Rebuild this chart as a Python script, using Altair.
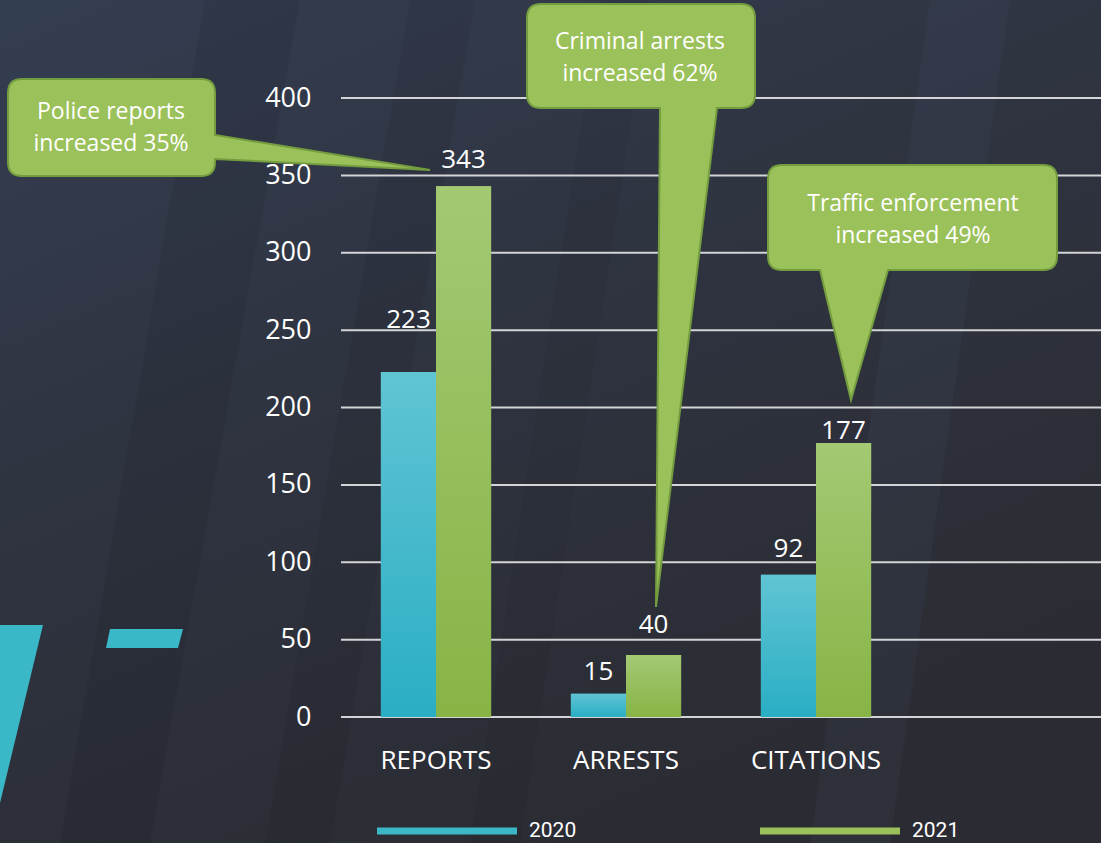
import altair as alt
import pandas as pd

# ---------------- data ----------------
categories = ["REPORTS", "ARRESTS", "CITATIONS"]
years = ["2020", "2021"]
values_2020 = [223, 15, 92]
values_2021 = [343, 40, 177]
y_ticks = [0, 50, 100, 150, 200, 250, 300, 350, 400]

callout_texts = [
    ["Police reports", "increased 35%"],
    ["Criminal arrests", "increased 62%"],
    ["Traffic enforcement", "increased 49%"],
]

# label lift above bar tops (pixels), as placed in the original
label_lift_2020 = [44, 14, 18]
label_lift_2021 = [18, 22, 4]

# ---------------- layout ----------------
W, H = 760, 619
PAD_L, PAD_T = 341, 98
TOTAL_W, TOTAL_H = 1101, 843
Y_MAX = 400
PX_PER_UNIT = H / Y_MAX

rows = []
for i, c in enumerate(categories):
    rows.append({"category": c, "year": "2020", "value": values_2020[i],
                 "label_y": values_2020[i] + label_lift_2020[i] / PX_PER_UNIT})
    rows.append({"category": c, "year": "2021", "value": values_2021[i],
                 "label_y": values_2021[i] + label_lift_2021[i] / PX_PER_UNIT})
df = pd.DataFrame(rows)
ticks_df = pd.DataFrame({"tick": y_ticks})
one = pd.DataFrame({"k": [0]})

x_domain = categories + ["_"]
x_scale = alt.Scale(domain=x_domain, paddingInner=0.42, paddingOuter=0.21)
y_scale = alt.Scale(domain=[0, Y_MAX], nice=False)
xoff_scale = alt.Scale(domain=years, paddingInner=0, paddingOuter=0)

FONT = "Open Sans"

y_axis = alt.Axis(values=y_ticks, title=None, grid=False, domain=False, ticks=False,
                  labelFont=FONT, labelFontSize=27, labelColor="#ffffff",
                  labelPadding=30, zindex=2)
x_axis = alt.Axis(title=None, grid=False, domain=False, ticks=False, labelAngle=0,
                  labelFont=FONT, labelFontSize=26, labelColor="#ffffff",
                  labelPadding=30, zindex=2,
                  labelExpr="datum.value == '_' ? '' : datum.value")

X = alt.X("category:N", scale=x_scale, axis=x_axis)
XO = alt.XOffset("year:N", scale=xoff_scale)
Y = alt.Y("value:Q", scale=y_scale, axis=y_axis)


def shape_layer(path, fill, opacity=1.0, stroke=None, stroke_width=0):
    kw = dict(shape=path, size=4, filled=True, fill=fill, opacity=opacity,
              strokeWidth=stroke_width)
    if stroke:
        kw["stroke"] = stroke
    return alt.Chart(one).mark_point(**kw).encode(x=alt.value(0), y=alt.value(0))


def poly(points):
    pts = [(x - PAD_L, y - PAD_T) for x, y in points]
    return "M" + " L".join(f"{x},{y}" for x, y in pts) + " Z"


def callout_path(box, r, side, base, tip):
    x0, y0, x1, y1 = box[0] - PAD_L, box[1] - PAD_T, box[2] - PAD_L, box[3] - PAD_T
    tx, ty = tip[0] - PAD_L, tip[1] - PAD_T
    p = [f"M{x0 + r},{y0}", f"H{x1 - r}", f"Q{x1},{y0} {x1},{y0 + r}"]
    if side == "right":
        b0, b1 = base[0] - PAD_T, base[1] - PAD_T
        p += [f"V{b0}", f"L{tx},{ty}", f"L{x1},{b1}"]
    p += [f"V{y1 - r}", f"Q{x1},{y1} {x1 - r},{y1}"]
    if side == "bottom":
        b0, b1 = base[0] - PAD_L, base[1] - PAD_L
        p += [f"H{b1}", f"L{tx},{ty}", f"L{b0},{y1}"]
    p += [f"H{x0 + r}", f"Q{x0},{y1} {x0},{y1 - r}", f"V{y0 + r}", f"Q{x0},{y0} {x0 + r},{y0}", "Z"]
    return " ".join(p)


# ---------------- background ----------------
bg_grad = alt.LinearGradient(
    gradient="linear",
    stops=[alt.GradientStop(color="#343e51", offset=0),
           alt.GradientStop(color="#2f3441", offset=0.45),
           alt.GradientStop(color="#2b2c33", offset=1)],
    x1=0, y1=0, x2=0.55, y2=1,
)
bg = alt.Chart(one).mark_rect(fill=bg_grad, strokeWidth=0).encode(
    x=alt.value(-PAD_L), x2=alt.value(TOTAL_W - PAD_L),
    y=alt.value(-PAD_T), y2=alt.value(TOTAL_H - PAD_T),
)

streaks = [
    shape_layer(poly([(205, 0), (300, 0), (150, 843), (60, 843)]), "#000000", 0.07),
    shape_layer(poly([(410, 0), (475, 0), (330, 843), (265, 843)]), "#000000", 0.06),
    shape_layer(poly([(930, 0), (1010, 0), (890, 843), (810, 843)]), "#4a5f80", 0.10),
    shape_layer(poly([(600, 0), (650, 0), (520, 843), (470, 843)]), "#000000", 0.04),
]

cyan1 = shape_layer(poly([(0, 625), (43, 625), (0, 803)]), "#3bb8c8")
cyan2 = shape_layer(poly([(110, 629), (183, 629), (178, 648), (106, 648)]), "#3bb8c8")

# ---------------- grid ----------------
grid = alt.Chart(ticks_df).mark_rule(color="#d4d4d6", strokeWidth=2).encode(
    y=alt.Y("tick:Q", scale=y_scale, axis=y_axis),
    x=alt.value(0), x2=alt.value(W),
)

# ---------------- bars ----------------
SYM_W = 140
base_bars = alt.Chart(df).mark_bar(strokeWidth=0).encode(
    x=X, xOffset=XO, y=Y,
    color=alt.Color("year:N",
                    scale=alt.Scale(domain=years, range=["#3cb7c8", "#9bc25a"]),
                    legend=alt.Legend(title=None, orient="none", legendX=36,
                                      legendY=831 - PAD_T - SYM_W / 2,
                                      direction="horizontal",
                                      symbolType="M-1,-0.05H1V0.05H-1Z",
                                      symbolSize=SYM_W * SYM_W, symbolStrokeWidth=0,
                                      symbolOpacity=1, zindex=2,
                                      labelFont="Roboto", labelFontSize=21,
                                      labelFontWeight="normal",
                                      labelColor="#ffffff", labelOffset=12,
                                      columnPadding=183, padding=0)),
)

grad_2020 = alt.LinearGradient(
    gradient="linear",
    stops=[alt.GradientStop(color="#60c4d3", offset=0),
           alt.GradientStop(color="#2aaec4", offset=1)],
    x1=0, y1=0, x2=0, y2=1,
)
grad_2021 = alt.LinearGradient(
    gradient="linear",
    stops=[alt.GradientStop(color="#a3c973", offset=0),
           alt.GradientStop(color="#88b446", offset=1)],
    x1=0, y1=0, x2=0, y2=1,
)
bars_2020 = alt.Chart(df).transform_filter("datum.year == '2020'").mark_bar(
    fill=grad_2020, strokeWidth=0).encode(x=X, xOffset=XO, y=Y)
bars_2021 = alt.Chart(df).transform_filter("datum.year == '2021'").mark_bar(
    fill=grad_2021, strokeWidth=0).encode(x=X, xOffset=XO, y=Y)

labels = alt.Chart(df).mark_text(font=FONT, fontSize=26, color="#ffffff",
                                  align="center", baseline="alphabetic").encode(
    x=X, xOffset=XO,
    y=alt.Y("label_y:Q", scale=y_scale, axis=y_axis),
    text=alt.Text("value:Q"),
)

# ---------------- callouts ----------------
CO_FILL = "#9bc15a"
CO_STROKE = "#739d3f"
callouts = [
    shape_layer(callout_path((8, 79, 215, 176), 14, "right", (135, 159), (430, 170)),
                CO_FILL, 1.0, CO_STROKE, 2),
    shape_layer(callout_path((527, 4, 755, 108), 14, "bottom", (660, 717), (656, 607)),
                CO_FILL, 1.0, CO_STROKE, 2),
    shape_layer(callout_path((768, 165, 1057, 270), 14, "bottom", (820, 888), (851, 400)),
                CO_FILL, 1.0, CO_STROKE, 2),
]
callout_pos = [(111, 112), (640, 42), (913, 204)]
callout_labels = [
    alt.Chart(one).mark_text(text=t, font=FONT, fontSize=23, color="#ffffff",
                             align="center", baseline="middle", lineHeight=32).encode(
        x=alt.value(px - PAD_L), y=alt.value(py - PAD_T))
    for t, (px, py) in zip(callout_texts, callout_pos)
]

chart = alt.layer(
    bg, *streaks, cyan1, cyan2, grid, base_bars, bars_2020, bars_2021, labels,
    *callouts, *callout_labels,
).properties(
    width=W, height=H,
    autosize=alt.AutoSizeParams(type="none"),
    padding={"left": PAD_L, "top": PAD_T, "right": TOTAL_W - PAD_L - W,
             "bottom": TOTAL_H - PAD_T - H},
    background="#2d3039",
).configure_view(stroke=None)

chart.save("out.html", embed_options={"renderer": "svg", "actions": False})
